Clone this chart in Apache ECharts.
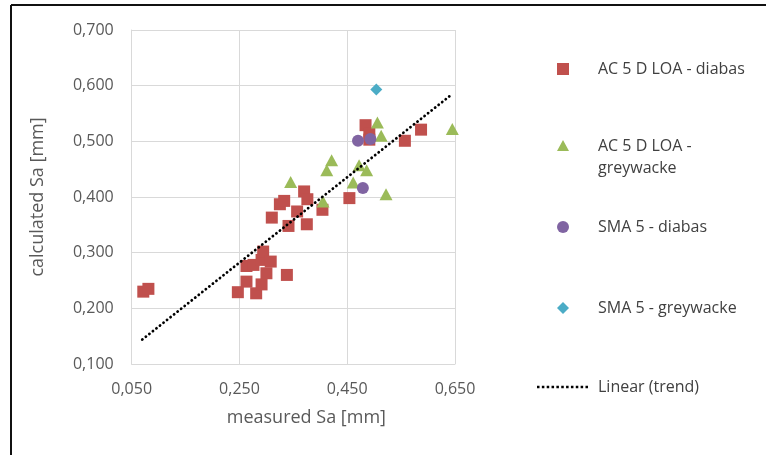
<!DOCTYPE html>
<html><head><meta charset="utf-8">
<script src="https://cdn.jsdelivr.net/npm/echarts@6/dist/echarts.min.js"></script>
<style>html,body{margin:0;padding:0;background:#fff}#c{width:766px;height:455px}</style>
</head><body><div id="c"></div>
<script>
// AC 5 D LOA - diabas [measured, calculated]
var diabasAC = [
  [0.0715,0.230],[0.081,0.235],
  [0.247,0.229],[0.281,0.227],[0.263,0.248],[0.291,0.243],[0.300,0.263],[0.338,0.260],
  [0.263,0.276],[0.276,0.278],[0.291,0.287],[0.294,0.302],[0.308,0.284],
  [0.310,0.363],[0.325,0.387],[0.333,0.393],[0.341,0.348],[0.357,0.374],
  [0.370,0.410],[0.376,0.396],[0.375,0.351],[0.404,0.377],[0.454,0.398],
  [0.484,0.529],[0.491,0.514],[0.491,0.503],[0.557,0.501],[0.587,0.521]
];
// AC 5 D LOA - greywacke
var greyAC = [
  [0.506,0.534],[0.513,0.510],[0.645,0.522],[0.421,0.466],[0.412,0.448],
  [0.472,0.457],[0.486,0.448],[0.461,0.426],[0.345,0.427],[0.522,0.405],[0.405,0.392]
];
// SMA 5 - diabas
var diabasSMA = [[0.470,0.501],[0.493,0.504],[0.479,0.416]];
// SMA 5 - greywacke
var greySMA = [[0.504,0.593]];
// Linear (trend) end points
var trendX = [0.0697, 0.645];
var trendY = [0.144, 0.585];
var xTicks = [0.05, 0.65, 0.2];
var yTicks = [0.1, 0.7, 0.1];
var names = ['AC 5 D LOA - diabas','AC 5 D LOA - greywacke','SMA 5 - diabas','SMA 5 - greywacke','Linear (trend)'];

var FONT = 'Open Sans';
var fmt = function(v){ return v.toFixed(3).replace('.', ','); };
var legTxt = {fontFamily: FONT, fontSize: 16, color: '#404040', lineHeight: 12, padding: [0,0,0,24]};
function leg(name, top, extra){
  var o = {show: true, orient: 'vertical', left: 557, top: top, padding: 0, itemWidth: 12, itemHeight: 12,
    data: [name], textStyle: legTxt, selectedMode: false};
  for (var k in extra) o[k] = extra[k];
  return o;
}
// dotted legend icon (style only)
var dotPath = 'path://M0,0L51,0 M0,12L51,12';
for (var i = 0; i < 11; i++) {
  var x0 = i * 5.0;
  dotPath += ' M' + x0 + ',4.6h2.6v2.6h-2.6Z';
}
var chart = echarts.init(document.getElementById('c'), null, {renderer: 'canvas'});
chart.setOption({
  animation: false,
  backgroundColor: '#fff',
  grid: {left: 131.7, right: 311, top: 30, bottom: 91, containLabel: false},
  xAxis: {
    type: 'value', min: xTicks[0], max: xTicks[1], interval: xTicks[2],
    name: 'measured Sa [mm]', nameLocation: 'middle', nameGap: 45,
    nameTextStyle: {fontFamily: FONT, fontSize: 18, color: '#595959', padding: [0,0,0,26]},
    axisLine: {show: true, lineStyle: {color: '#d9d9d9', width: 1}},
    axisTick: {show: false},
    axisLabel: {formatter: fmt, fontFamily: FONT, fontSize: 16, color: '#595959', margin: 17},
    splitLine: {show: true, lineStyle: {color: '#d9d9d9', width: 1}}
  },
  yAxis: {
    type: 'value', min: yTicks[0], max: yTicks[1], interval: yTicks[2],
    name: 'calculated Sa [mm]', nameLocation: 'middle', nameGap: 85, nameRotate: 90,
    nameTextStyle: {fontFamily: FONT, fontSize: 18, color: '#595959'},
    axisLine: {show: true, lineStyle: {color: '#d9d9d9', width: 1}},
    axisTick: {show: false},
    axisLabel: {formatter: fmt, fontFamily: FONT, fontSize: 16, color: '#595959', margin: 18},
    splitLine: {show: true, lineStyle: {color: '#d9d9d9', width: 1}}
  },
  legend: [
    leg(names[0], 61, {data: [{name: names[0], icon: 'rect'}]}),
    leg(names[1], 135, {itemHeight: 34, formatter: function(){return 'AC 5 D LOA -\ngreywacke';},
      textStyle: {fontFamily: FONT, fontSize: 16, color: '#404040', lineHeight: 22, padding: [0,0,0,24]},
      data: [{name: names[1], icon: 'path://M6,0L12,11L0,11Z M0,34L12,34'}]}),
    leg(names[2], 219, {data: [{name: names[2], icon: 'circle'}]}),
    leg(names[3], 300, {data: [{name: names[3], icon: 'diamond'}]}),
    leg(names[4], 379, {left: 537, itemWidth: 51, data: [{name: names[4], icon: dotPath, itemStyle: {color: '#000'}}],
      textStyle: {fontFamily: FONT, fontSize: 16, color: '#404040', lineHeight: 12, padding: [0,0,0,5]}})
  ],
  graphic: [
    {type: 'line', shape: {x1: 11, y1: 5, x2: 766, y2: 5}, style: {stroke: '#111', lineWidth: 2}},
    {type: 'line', shape: {x1: 11, y1: 5, x2: 11, y2: 455}, style: {stroke: '#111', lineWidth: 2}}
  ],
  series: [
    {name: names[4], type: 'line', data: [[trendX[0], trendY[0]], [trendX[1], trendY[1]]], symbol: 'none', z: 3,
      lineStyle: {color: '#000', width: 2.8, type: [0.1, 4.4], cap: 'round'}, itemStyle: {color: '#000'}},
    {name: names[0], type: 'scatter', data: diabasAC, symbol: 'rect', symbolSize: 12, itemStyle: {color: '#C0504D', opacity: 1}, z: 2},
    {name: names[1], type: 'scatter', data: greyAC, symbol: 'triangle', symbolSize: [13, 12], itemStyle: {color: '#9BBB59', opacity: 1}, z: 2},
    {name: names[2], type: 'scatter', data: diabasSMA, symbol: 'circle', symbolSize: 12, itemStyle: {color: '#8064A2', opacity: 1}, z: 2},
    {name: names[3], type: 'scatter', data: greySMA, symbol: 'diamond', symbolSize: 12, itemStyle: {color: '#4BACC6', opacity: 1}, z: 2}
  ]
});
</script></body></html>
